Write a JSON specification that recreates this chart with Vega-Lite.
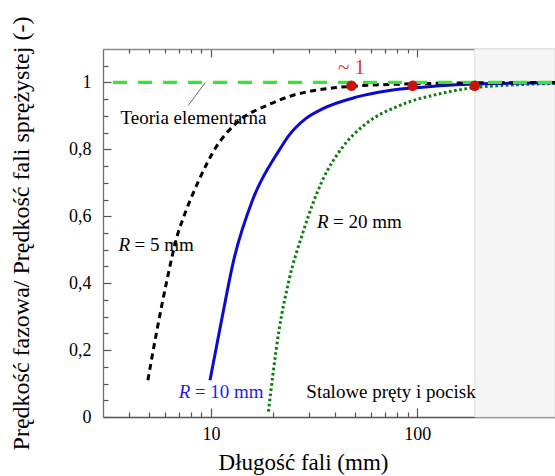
{
  "$schema": "https://vega.github.io/schema/vega-lite/v6.json",
  "width": 452,
  "height": 368,
  "autosize": "none",
  "padding": {"left": 103, "top": 49, "right": 0, "bottom": 59},
  "background": "white",
  "config": {
    "view": {"stroke": null},
    "axis": {
      "grid": false,
      "zindex": 1,
      "labelFont": "Liberation Serif",
      "titleFont": "Liberation Serif",
      "labelColor": "black",
      "titleColor": "black",
      "titleFontWeight": "normal",
      "domainColor": "#6e6e6e",
      "domainWidth": 1.3,
      "tickColor": "#555555",
      "tickWidth": 1.2
    },
    "text": {"font": "Liberation Serif"}
  },
  "datasets": {
    "zone": [{"from": 190, "to": 465, "low": 0, "high": 1.1}],
    "curves": [
      {"series": "R = 5 mm", "length": 4.95, "ratio": 0.11},
      {"series": "R = 5 mm", "length": 5.48, "ratio": 0.26},
      {"series": "R = 5 mm", "length": 6.13, "ratio": 0.41},
      {"series": "R = 5 mm", "length": 6.93, "ratio": 0.55},
      {"series": "R = 5 mm", "length": 7.2, "ratio": 0.58},
      {"series": "R = 5 mm", "length": 8.74, "ratio": 0.707},
      {"series": "R = 5 mm", "length": 10.6, "ratio": 0.807},
      {"series": "R = 5 mm", "length": 13.2, "ratio": 0.877},
      {"series": "R = 5 mm", "length": 19.1, "ratio": 0.934},
      {"series": "R = 5 mm", "length": 24.8, "ratio": 0.961},
      {"series": "R = 5 mm", "length": 36.1, "ratio": 0.981},
      {"series": "R = 5 mm", "length": 52.5, "ratio": 0.99},
      {"series": "R = 5 mm", "length": 82, "ratio": 0.995},
      {"series": "R = 5 mm", "length": 150, "ratio": 0.998},
      {"series": "R = 5 mm", "length": 465, "ratio": 1.0},
      {"series": "R = 10 mm", "length": 9.9, "ratio": 0.11},
      {"series": "R = 10 mm", "length": 11.35, "ratio": 0.3},
      {"series": "R = 10 mm", "length": 12.9, "ratio": 0.469},
      {"series": "R = 10 mm", "length": 15.9, "ratio": 0.648},
      {"series": "R = 10 mm", "length": 21.4, "ratio": 0.797},
      {"series": "R = 10 mm", "length": 23.9, "ratio": 0.842},
      {"series": "R = 10 mm", "length": 28.8, "ratio": 0.892},
      {"series": "R = 10 mm", "length": 34.7, "ratio": 0.921},
      {"series": "R = 10 mm", "length": 50.5, "ratio": 0.956},
      {"series": "R = 10 mm", "length": 73.3, "ratio": 0.976},
      {"series": "R = 10 mm", "length": 106, "ratio": 0.986},
      {"series": "R = 10 mm", "length": 155, "ratio": 0.993},
      {"series": "R = 10 mm", "length": 250, "ratio": 0.997},
      {"series": "R = 10 mm", "length": 465, "ratio": 0.999},
      {"series": "R = 20 mm", "length": 19.0, "ratio": 0.016},
      {"series": "R = 20 mm", "length": 20.0, "ratio": 0.13},
      {"series": "R = 20 mm", "length": 21.4, "ratio": 0.26},
      {"series": "R = 20 mm", "length": 23.9, "ratio": 0.409},
      {"series": "R = 20 mm", "length": 27.8, "ratio": 0.548},
      {"series": "R = 20 mm", "length": 34.7, "ratio": 0.707},
      {"series": "R = 20 mm", "length": 43.5, "ratio": 0.807},
      {"series": "R = 20 mm", "length": 56.5, "ratio": 0.877},
      {"series": "R = 20 mm", "length": 82, "ratio": 0.931},
      {"series": "R = 20 mm", "length": 128, "ratio": 0.966},
      {"series": "R = 20 mm", "length": 186, "ratio": 0.984},
      {"series": "R = 20 mm", "length": 300, "ratio": 0.993},
      {"series": "R = 20 mm", "length": 465, "ratio": 0.997}
    ],
    "elementary": [{"from": 3, "to": 465, "level": 1}],
    "pointer": [{"x1": 9.4, "y1": 1.0, "x2": 7.76, "y2": 0.931}],
    "marks": [
      {"length": 48, "ratio": 0.99},
      {"length": 95, "ratio": 0.99},
      {"length": 190, "ratio": 0.99}
    ],
    "notes": [
      {"label": "Teoria elementarna", "length": 3.65, "ratio": 0.893},
      {"label": "Stalowe pręty i pocisk", "length": 29.0, "ratio": 0.075}
    ],
    "radii": [
      {"radius": "5", "symbol": "R", "rest": "= 5 mm", "length": 3.57, "ratio": 0.513},
      {"radius": "10", "symbol": "R", "rest": "= 10 mm", "length": 6.99, "ratio": 0.075},
      {"radius": "20", "symbol": "R", "rest": "= 20 mm", "length": 32.7, "ratio": 0.582}
    ],
    "approx": [{"label": "~ 1", "length": 48, "ratio": 1.042}]
  },
  "resolve": {"axis": {"x": "independent", "y": "independent"}},
  "layer": [
    {
      "data": {"name": "zone"},
      "mark": {"type": "rect", "fill": "#f5f5f5", "stroke": "#e0e0e0", "strokeWidth": 1},
      "encoding": {
        "x": {
          "field": "from", "type": "quantitative",
          "scale": {"type": "log", "domain": [3, 465], "nice": false, "zero": false},
          "axis": {
            "orient": "bottom", "values": [10, 100], "format": "d", "ticks": false,
            "labelPadding": 8, "labelFontSize": 18,
            "title": "Długość fali (mm)", "titleFontSize": 23, "titleX": 200, "titlePadding": 8,
            "domainColor": "#555555", "domainWidth": 1.6
          }
        },
        "x2": {"field": "to"},
        "y": {
          "field": "low", "type": "quantitative",
          "scale": {"domain": [0, 1.1], "nice": false, "zero": false},
          "axis": {
            "orient": "left", "values": [0, 0.2, 0.4, 0.6, 0.8, 1],
            "labelExpr": "replace(format(datum.value, '.1~f'), '.', ',')",
            "ticks": false, "labelPadding": 12, "labelFontSize": 18,
            "title": "Prędkość fazowa/ Prędkość fali sprężystej (-)", "titleFontSize": 24, "titlePadding": 35
          }
        },
        "y2": {"field": "high"}
      }
    },
    {
      "data": {"name": "notes"},
      "mark": {"type": "text", "align": "left", "baseline": "middle", "fontSize": 19, "color": "black"},
      "encoding": {
        "x": {"field": "length", "type": "quantitative", "axis": null},
        "y": {"field": "ratio", "type": "quantitative", "axis": null},
        "text": {"field": "label"}
      }
    },
    {
      "data": {"name": "radii"},
      "mark": {"type": "text", "align": "left", "baseline": "middle", "fontSize": 19, "fontStyle": "italic"},
      "encoding": {
        "x": {"field": "length", "type": "quantitative", "axis": null},
        "y": {"field": "ratio", "type": "quantitative", "axis": null},
        "text": {"field": "symbol"},
        "color": {"field": "radius", "type": "nominal", "scale": {"domain": ["5", "10", "20"], "range": ["#000000", "#1f1fe0", "#000000"]}, "legend": null}
      }
    },
    {
      "data": {"name": "radii"},
      "mark": {"type": "text", "align": "left", "baseline": "middle", "fontSize": 19, "dx": 16},
      "encoding": {
        "x": {"field": "length", "type": "quantitative", "axis": null},
        "y": {"field": "ratio", "type": "quantitative", "axis": null},
        "text": {"field": "rest"},
        "color": {"field": "radius", "type": "nominal", "legend": null}
      }
    },
    {
      "data": {"name": "pointer"},
      "mark": {"type": "rule", "color": "#444444", "strokeWidth": 0.8},
      "encoding": {
        "x": {"field": "x1", "type": "quantitative", "axis": null},
        "y": {"field": "y1", "type": "quantitative", "axis": null},
        "x2": {"field": "x2"},
        "y2": {"field": "y2"}
      }
    },
    {
      "data": {"name": "curves"},
      "transform": [{"filter": "datum.series === 'R = 20 mm'"}],
      "mark": {"type": "line", "color": "#0a7d0a", "strokeWidth": 3, "strokeDash": [2.6, 2.6], "interpolate": "monotone"},
      "encoding": {
        "x": {
          "field": "length", "type": "quantitative",
          "axis": {"orient": "bottom", "values": [10, 100], "labels": false, "domain": false, "tickSize": -9, "title": null}
        },
        "y": {
          "field": "ratio", "type": "quantitative",
          "axis": {"orient": "left", "values": [0, 0.2, 0.4, 0.6, 0.8, 1], "labels": false, "domain": false, "tickSize": -8, "title": null}
        },
        "order": {"field": "length", "type": "quantitative"}
      }
    },
    {
      "data": {"name": "curves"},
      "transform": [{"filter": "datum.series === 'R = 10 mm'"}],
      "mark": {"type": "line", "color": "#0a0ad2", "strokeWidth": 3, "interpolate": "monotone"},
      "encoding": {
        "x": {
          "field": "length", "type": "quantitative",
          "axis": {"orient": "bottom", "values": [4, 5, 6, 7, 8, 9, 20, 30, 40, 50, 60, 70, 80, 90, 200, 300, 400], "labels": false, "domain": false, "tickSize": -5, "title": null}
        },
        "y": {
          "field": "ratio", "type": "quantitative",
          "axis": {"orient": "left", "values": [0.05, 0.1, 0.15, 0.25, 0.3, 0.35, 0.45, 0.5, 0.55, 0.65, 0.7, 0.75, 0.85, 0.9, 0.95, 1.05], "labels": false, "domain": false, "tickSize": -5, "title": null}
        },
        "order": {"field": "length", "type": "quantitative"}
      }
    },
    {
      "data": {"name": "curves"},
      "transform": [{"filter": "datum.series === 'R = 5 mm'"}],
      "mark": {"type": "line", "color": "#000000", "strokeWidth": 3, "strokeDash": [6, 4.5], "interpolate": "monotone"},
      "encoding": {
        "x": {
          "field": "length", "type": "quantitative",
          "axis": {"orient": "top", "values": [10, 100], "labels": false, "domain": true, "domainColor": "#8a8a8a", "tickSize": -8, "title": null}
        },
        "y": {
          "field": "ratio", "type": "quantitative",
          "axis": {"orient": "right", "values": [0.2, 0.4, 0.6, 0.8, 1], "labels": false, "domain": false, "tickSize": -4, "title": null}
        },
        "order": {"field": "length", "type": "quantitative"}
      }
    },
    {
      "data": {"name": "elementary"},
      "mark": {"type": "rule", "color": "#33e833", "strokeWidth": 3.2, "strokeDash": [14, 11], "strokeDashOffset": 15},
      "encoding": {
        "x": {
          "field": "from", "type": "quantitative",
          "axis": {"orient": "top", "values": [4, 5, 6, 7, 8, 9, 20, 30, 40, 50, 60, 70, 80, 90, 200, 300, 400], "labels": false, "domain": false, "tickSize": -4, "title": null}
        },
        "x2": {"field": "to"},
        "y": {"field": "level", "type": "quantitative", "axis": null}
      }
    },
    {
      "data": {"name": "marks"},
      "mark": {"type": "point", "filled": true, "color": "#cc1111", "size": 110, "opacity": 1},
      "encoding": {
        "x": {"field": "length", "type": "quantitative", "axis": null},
        "y": {"field": "ratio", "type": "quantitative", "axis": null}
      }
    },
    {
      "data": {"name": "approx"},
      "mark": {"type": "text", "align": "center", "baseline": "middle", "fontSize": 21, "color": "#d83a3a"},
      "encoding": {
        "x": {"field": "length", "type": "quantitative", "axis": null},
        "y": {"field": "ratio", "type": "quantitative", "axis": null},
        "text": {"field": "label"}
      }
    }
  ]
}
